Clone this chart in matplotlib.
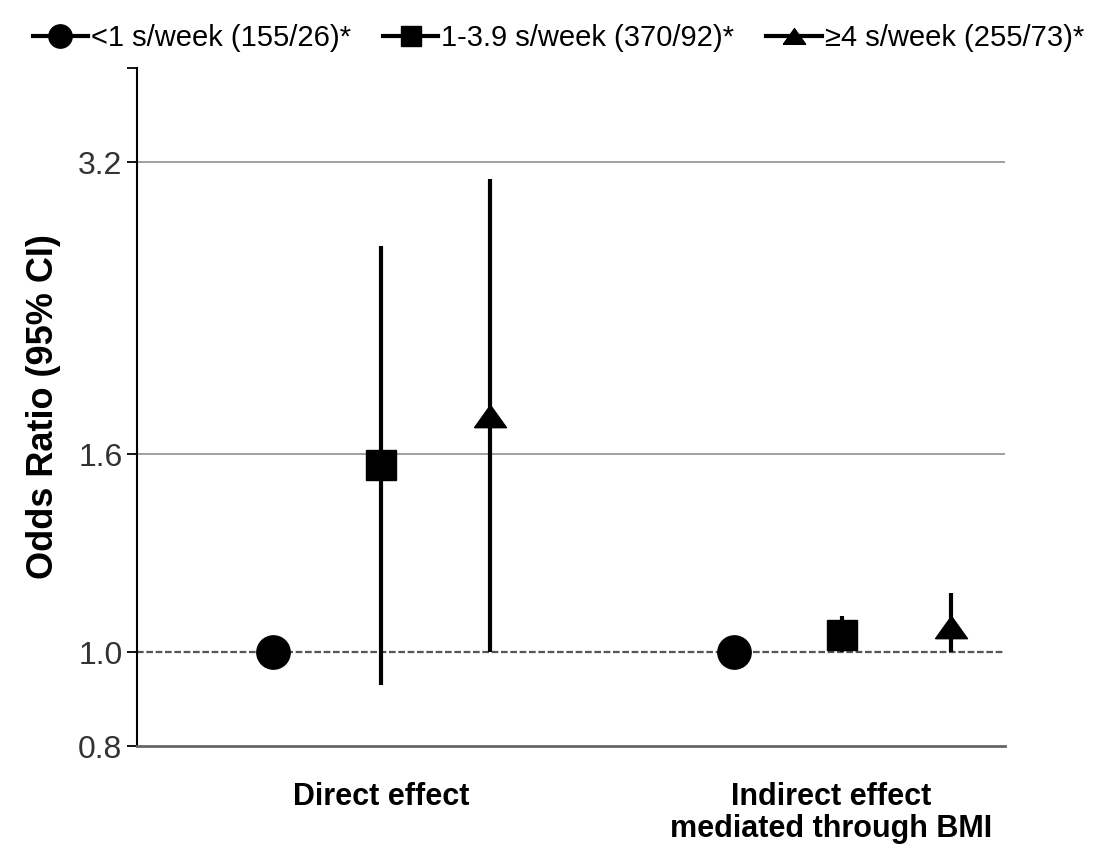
import matplotlib.pyplot as plt
from matplotlib.lines import Line2D

plt.rcParams['font.family'] = ['Liberation Sans', 'DejaVu Sans']

groups = ["Direct effect", "Indirect effect\nmediated through BMI"]
group_x = [2.25, 6.5]
label_x = [2.25, 6.4]
offsets = [-1.0, 0.0, 1.0]

series = ["<1 s/week (155/26)*", "1-3.9 s/week (370/92)*", "\u22654 s/week (255/73)*"]
# odds ratio and 95% CI per series, [direct, indirect]
or_vals = [[1.00, 1.00], [1.56, 1.04], [1.75, 1.06]]
ci_low = [[None, None], [0.925, 1.00], [1.00, 1.00]]
ci_high = [[None, None], [2.62, 1.09], [3.07, 1.15]]

yticks = [0.8, 1.0, 1.6, 3.2, 4.0]
ytick_labels = ["0.8", "1.0", "1.6", "3.2", ""]

tri = [(-1, -0.7), (1, -0.7), (0, 0.7), (-1, -0.7)]
markers = ["o", "s", tri]
msizes = [24, 21, 23]

fig = plt.figure(figsize=(10.99, 8.44), dpi=100)
ax = fig.add_axes([0.1247, 0.1161, 0.7898, 0.8033])

ax.set_yscale("log")
ax.set_ylim(0.8, 4.0)
ax.set_xlim(0, 8)

for y in [1.6, 3.2]:
    ax.axhline(y, color="#999999", lw=1.3, zorder=1)
ax.axhline(1.0, color="#555555", lw=1.6, ls=(0, (3, 1.2)), zorder=1)

for i in range(3):
    for g in range(2):
        x = group_x[g] + offsets[i]
        if ci_low[i][g] is not None:
            ax.plot([x, x], [ci_low[i][g], ci_high[i][g]], color="black", lw=3, zorder=3,
                    solid_capstyle="butt")
        ax.plot(x, or_vals[i][g], marker=markers[i], ms=msizes[i], color="black",
                linestyle="none", zorder=4)

ax.set_yticks(yticks)
ax.set_yticklabels(ytick_labels)
ax.minorticks_off()
ax.tick_params(axis="y", labelsize=23, labelcolor="#333333", length=7, width=1.3, direction="out")
ax.set_xticks(label_x)
ax.set_xticklabels(groups, fontsize=22, fontweight="bold", linespacing=1.1)
ax.tick_params(axis="x", length=0, pad=26)

ax.set_ylabel("Odds Ratio (95% CI)", fontsize=26, fontweight="bold", labelpad=12)

for s in ["top", "right"]:
    ax.spines[s].set_visible(False)
ax.spines["left"].set_linewidth(1.5)
ax.spines["bottom"].set_color("#666666")
ax.spines["bottom"].set_linewidth(2)

handles = [Line2D([], [], color="black", lw=3, marker=markers[i], ms=msizes[i] * 0.7)
           for i in range(3)]
fig.legend(handles, series, loc="center", bbox_to_anchor=(0.508, 0.955), ncol=3,
           frameon=False, fontsize=21, handlelength=1.9, handletextpad=0.1,
           columnspacing=1.1, borderpad=0.1)

fig.savefig("out.png", dpi=100)
